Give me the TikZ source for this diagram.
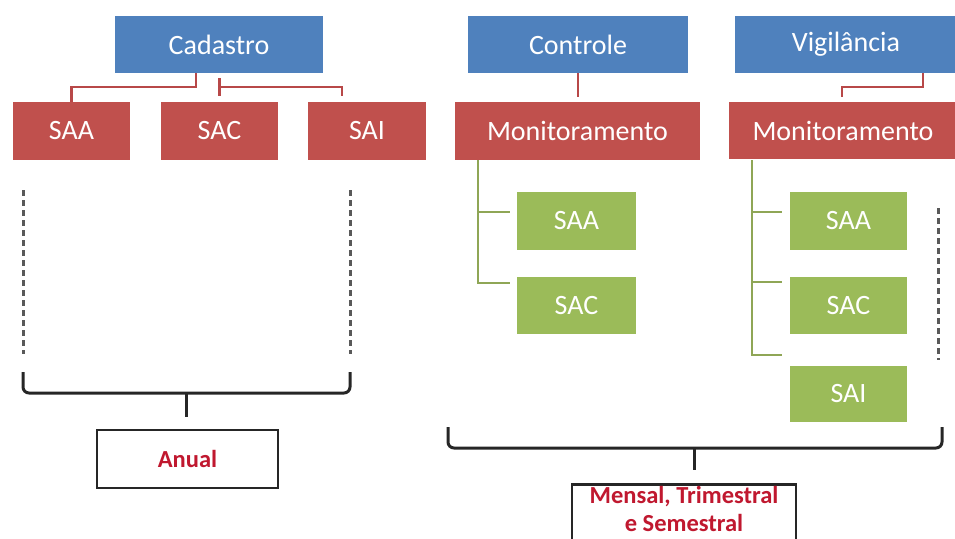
\documentclass[tikz,border=0pt]{standalone}
\usepackage{fontspec}
\setmainfont{Carlito}
\definecolor{bbox}{HTML}{4F81BD}
\definecolor{rbox}{HTML}{C0504D}
\definecolor{gbox}{HTML}{9BBB59}
\definecolor{gline}{HTML}{8FA656}
\definecolor{rline}{HTML}{B84848}
\definecolor{lbl}{HTML}{C0182F}
\begin{document}
\begin{tikzpicture}[x=1pt,y=-1pt,
  boxbase/.style={rectangle, inner sep=0pt, text=white, font=\fontsize{28}{33}\selectfont},
  bluebox/.style={boxbase, fill=bbox, minimum height=57pt},
  redbox/.style={boxbase, fill=rbox, minimum height=58pt},
  greenbox/.style={boxbase, fill=gbox, minimum height=57pt},
  redline/.style={draw=rline, line width=2.4pt},
  greenline/.style={draw=gline, line width=2.2pt},
  bracket/.style={draw=black!85, line width=3pt, rounded corners=6pt},
  dashline/.style={draw=black!65, line width=3pt, dash pattern=on 6pt off 4pt},
  labelbox/.style={draw=black!85, line width=2.6pt, fill=white, text=lbl, font=\fontsize{24.5}{28}\selectfont\bfseries}
]
\useasboundingbox (0,0) rectangle (955,538);
\clip (0,0) rectangle (955,538);

% top level
\node[bluebox, minimum width=208pt] (cad) at (219,44.5) {Cadastro};
\node[bluebox, minimum width=220pt] (ctrl) at (578,44.5) {Controle};
\node[bluebox, minimum width=222pt] (vig) at (846,44.5) {Vigilância};

% second level
\node[redbox, minimum width=117pt] (saaR) at (71.5,131) {SAA};
\node[redbox, minimum width=117pt] (sacR) at (219.5,131) {SAC};
\node[redbox, minimum width=118pt] (saiR) at (367,131) {SAI};
\node[redbox, minimum width=245pt] (mon1) at (577.5,131) {Monitoramento};
\node[redbox, minimum width=228pt, minimum height=57pt] (mon2) at (843,130.5) {Monitoramento};

% green
\node[greenbox, minimum width=119pt, minimum height=58pt] (gsaa1) at (576.5,221) {SAA};
\node[greenbox, minimum width=119pt] (gsac1) at (576.5,305.5) {SAC};
\node[greenbox, minimum width=117pt, minimum height=58pt] (gsaa2) at (848.5,221) {SAA};
\node[greenbox, minimum width=117pt] (gsac2) at (848.5,305.5) {SAC};
\node[greenbox, minimum width=117pt, minimum height=56pt] (gsai2) at (848.5,394) {SAI};

% red connectors
\draw[redline] ([xshift=-23pt]cad.south) -- ++(0,14) -| (saaR.north);
\draw[redline] ([yshift=6pt]sacR.north) -- ([yshift=24pt]sacR.north);
\draw[redline] ([yshift=15pt]sacR.north) -| ([xshift=-25pt,yshift=6pt]saiR.north);
\draw[redline] (ctrl.south) -- ([yshift=5pt,xshift=0.5pt]mon1.north);
\draw[redline] ([xshift=77pt]vig.south) -- ++(0,14) -| ([xshift=-1pt,yshift=5pt]mon2.north);

% green trees
\coordinate (t1) at (478,160);
\draw[greenline] (t1) |- ([xshift=-7pt,yshift=22.5pt]gsac1.west);
\draw[greenline] (t1 |- 0,212) -- ([xshift=-7pt,yshift=9pt]gsaa1.west);
\coordinate (t2) at (752,160);
\draw[greenline] (t2) |- ([xshift=-8pt,yshift=39pt]gsai2.west);
\draw[greenline] (t2 |- 0,212) -- ([xshift=-8pt,yshift=9pt]gsaa2.west);
\draw[greenline] (t2 |- 0,282) -- ([xshift=-8pt,yshift=23.5pt]gsac2.west);

% dashed lines
\draw[dashline] (23,190) -- (23,354);
\draw[dashline] (350,190) -- (350,354);
\draw[dashline] (938,208) -- (938,360);

% labels
\node[labelbox, minimum width=181pt, minimum height=58pt] (anual) at (187.5,459) {Anual};
\node[labelbox, minimum width=224pt, text depth=40pt, inner ysep=2pt, align=center, anchor=north] (mensal) at (684,483) {Mensal, Trimestral\\e Semestral};

% brackets
\coordinate (b1tip) at (186,417);
\draw[bracket] (23,372) |- (350,393) -- (350,372);
\draw[bracket, rounded corners=0pt] (186,393) -- (b1tip);
\draw[bracket] (448,427) |- (942,448) -- (942,427);
\coordinate (b2tip) at (694,470);
\draw[bracket, rounded corners=0pt] (694,448) -- (b2tip);
\end{tikzpicture}
\end{document}
